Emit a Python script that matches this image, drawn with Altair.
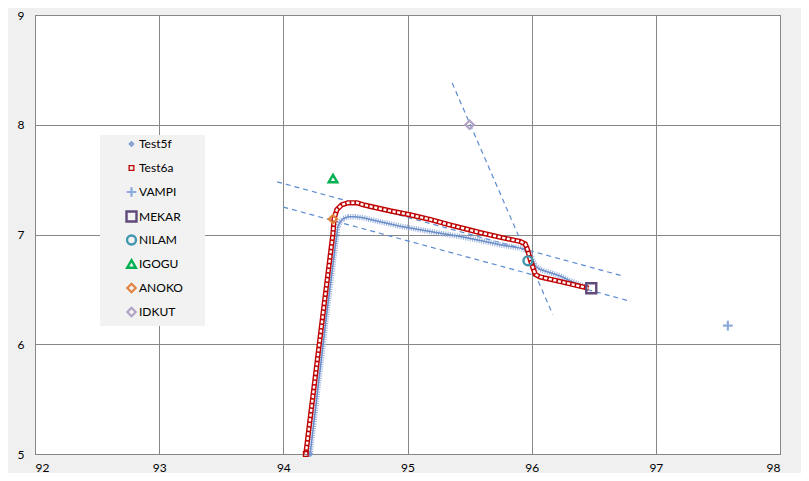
import altair as alt
import pandas as pd

# ---- data ----
x_ticks = [92, 93, 94, 95, 96, 97, 98]
y_ticks = [5, 6, 7, 8, 9]

series_names = ["Test5f", "Test6a", "VAMPI", "MEKAR", "NILAM", "IGOGU", "ANOKO", "IDKUT"]
series_colors = ["#7b9bd1", "#c00000", "#8eaadb", "#604a7b", "#3f97ae", "#00b050", "#e2843f", "#b3a2c7"]
series_shapes = ["diamond", "square", "M-1,0L1,0M0,-1L0,1", "square", "circle",
                 "triangle-up", "diamond", "diamond"]
series_sizes = [14, 22, 95, 100, 80, 75, 70, 70]
series_strokes = [1.8, 1.3, 2.2, 2.4, 2.4, 2.4, 2.2, 2.2]

# Test5f track (blue)
test5f_x = [94.216, 94.351, 94.431, 94.439, 94.458, 94.484, 94.525, 94.579, 94.645,
            94.699, 94.780, 94.941, 95.102, 95.264, 95.425, 95.586, 95.747, 95.908,
            95.967, 96.002, 96.029, 96.069, 96.150, 96.230, 96.311, 96.392, 96.446]
test5f_y = [5.000, 6.292, 7.002, 7.071, 7.116, 7.146, 7.161, 7.161, 7.152,
            7.137, 7.116, 7.076, 7.044, 7.011, 6.981, 6.945, 6.906, 6.876,
            6.855, 6.786, 6.712, 6.681, 6.651, 6.622, 6.577, 6.541, 6.517]

# Test6a track (red)
test6a_x = [94.181, 94.321, 94.399, 94.409, 94.431, 94.471, 94.522, 94.592, 94.643,
            94.699, 94.861, 95.022, 95.183, 95.336, 95.586, 95.747, 95.908, 95.948,
            95.965, 95.989, 96.011, 96.029, 96.069, 96.230, 96.459]
test6a_y = [5.000, 6.292, 7.002, 7.146, 7.226, 7.271, 7.289, 7.289, 7.271,
            7.256, 7.215, 7.179, 7.137, 7.089, 7.017, 6.975, 6.936, 6.915,
            6.867, 6.771, 6.696, 6.636, 6.613, 6.571, 6.510]

# named locations
site_names = ["VAMPI", "MEKAR", "NILAM", "IGOGU", "ANOKO", "IDKUT"]
site_x = [97.58, 96.48, 95.97, 94.40, 94.40, 95.50]
site_y = [6.17, 6.51, 6.76, 7.51, 7.14, 8.00]

# dashed guide lines
guide_ids = ["g1", "g1", "g2", "g2", "g3", "g3"]
guide_x = [93.95, 96.74, 94.00, 96.80, 95.36, 96.17]
guide_y = [7.48, 6.62, 7.25, 6.39, 8.38, 6.27]

# ---- tables ----
blue = pd.DataFrame({"x": test5f_x, "y": test5f_y, "i": range(len(test5f_x))})
red = pd.DataFrame({"x": test6a_x, "y": test6a_y, "i": range(len(test6a_x))})
guides = pd.DataFrame({"g": guide_ids, "x": guide_x, "y": guide_y})
points = pd.DataFrame({
    "series": ["Test5f", "Test6a"] + site_names,
    "x": [test5f_x[0], test6a_x[0]] + site_x,
    "y": [test5f_y[0], test6a_y[0]] + site_y,
})

GRID = "#878787"
FONT = "Lato"

xs = alt.Scale(domain=[92, 98], nice=False, zero=False)
ys = alt.Scale(domain=[5, 9], nice=False, zero=False)


def X(axis=True):
    if axis:
        return alt.X("x:Q", scale=xs, title=None,
                     axis=alt.Axis(values=x_ticks, format="d", labelPadding=8))
    return alt.X("x:Q", scale=xs, title=None)


def Y(axis=True):
    if axis:
        return alt.Y("y:Q", scale=ys, title=None,
                     axis=alt.Axis(values=y_ticks, format="d", labelPadding=11))
    return alt.Y("y:Q", scale=ys, title=None)


guide_layer = alt.Chart(guides).mark_line(
    color="#5b8bd0", strokeWidth=1.2, strokeDash=[5, 4]
).encode(x=X(), y=Y(), detail="g:N")

blue_outer = alt.Chart(blue).mark_line(
    color="#94aedc", strokeWidth=5.5, strokeDash=[1, 1.3], clip=True
).encode(x=X(False), y=Y(False), order="i:Q")
blue_center = alt.Chart(blue).mark_line(
    color="#6a8dc8", strokeWidth=1.5, clip=True
).encode(x=X(False), y=Y(False), order="i:Q")

red_outer = alt.Chart(red).mark_line(
    color="#c00000", strokeWidth=5.2, clip=True
).encode(x=X(False), y=Y(False), order="i:Q")
red_inner = alt.Chart(red).mark_line(
    color="white", strokeWidth=2.4, strokeDash=[3.1, 1.6], clip=True
).encode(x=X(False), y=Y(False), order="i:Q")

legend_box = alt.Chart(pd.DataFrame({"a": [0]})).mark_rect(fill="#f2f2f2").encode(
    x=alt.value(65), x2=alt.value(170), y=alt.value(120), y2=alt.value(311)
)


def leg():
    return alt.Legend(title=None, orient="none", legendX=90, legendY=123,
                      rowPadding=3, labelOffset=1, padding=0, gridAlign="all")


point_layer = alt.Chart(points).mark_point(filled=False, opacity=1).encode(
    x=X(False), y=Y(False),
    color=alt.Color("series:N",
                    scale=alt.Scale(type="ordinal", domain=series_names, range=series_colors),
                    legend=leg()),
    shape=alt.Shape("series:N",
                    scale=alt.Scale(type="ordinal", domain=series_names, range=series_shapes),
                    legend=leg()),
    size=alt.Size("series:N",
                  scale=alt.Scale(type="ordinal", domain=series_names, range=series_sizes),
                  legend=leg()),
    strokeWidth=alt.StrokeWidth("series:N",
                                scale=alt.Scale(type="ordinal", domain=series_names,
                                                range=series_strokes),
                                legend=leg()),
)

chart = alt.layer(
    guide_layer, legend_box, blue_outer, blue_center, red_outer, red_inner, point_layer
).properties(
    width=745, height=439,
    padding={"left": 27, "top": 7, "right": 21, "bottom": 19},
    autosize="none",
    background="#f0f0f0",
).configure_view(
    fill="white", stroke=GRID, strokeWidth=1
).configure_axis(
    grid=True, gridColor=GRID, gridWidth=1, gridOpacity=1,
    domainColor=GRID, domainWidth=1, ticks=False,
    labelFont=FONT, labelFontSize=12, labelColor="#000000",
).configure_legend(
    labelFont=FONT, labelFontSize=12, labelColor="#000000",
)

chart.save("out.html", embed_options={"renderer": "svg", "actions": False})
